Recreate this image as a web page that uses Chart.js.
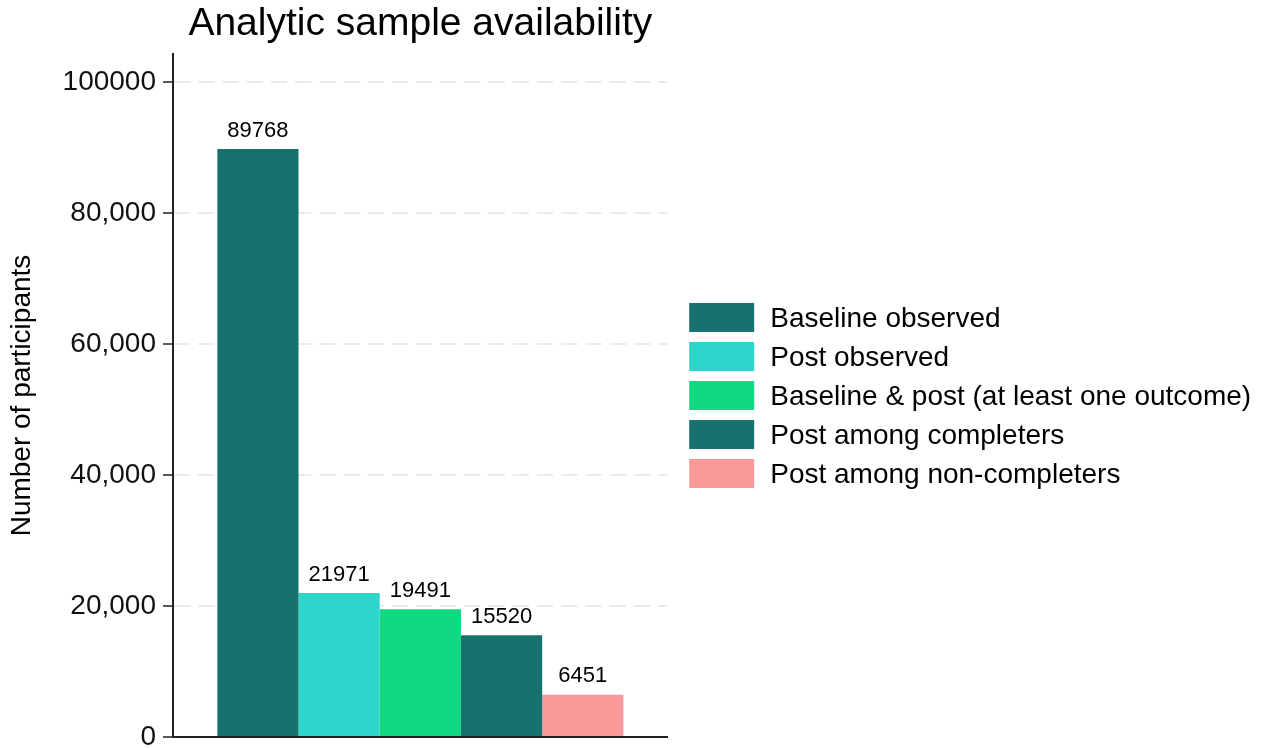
<!DOCTYPE html>
<html>
<head>
<meta charset="utf-8">
<title>Analytic sample availability</title>
<script src="https://cdn.jsdelivr.net/npm/chart.js@4.4.1/dist/chart.umd.min.js"></script>
<style>
  html, body { margin: 0; padding: 0; background: #ffffff; }
  canvas { display: block; }
</style>
</head>
<body>
<canvas id="chart" width="1263" height="748"></canvas>
<script>
// Sample counts per availability group
const categories = [''];
const seriesNames = [
  'Baseline observed',
  'Post observed',
  'Baseline & post (at least one outcome)',
  'Post among completers',
  'Post among non-completers'
];
const seriesValues = [89768, 21971, 19491, 15520, 6451];
const seriesColors = ['#17726F', '#2ED5CB', '#10D982', '#17726F', '#F99999'];

// Y axis ticks and their printed labels
const tickValues = [0, 20000, 40000, 60000, 80000, 100000];
const tickLabels = ['0', '20,000', '40,000', '60,000', '80,000', '100000'];

const FONT = '"Liberation Sans", Arial, Helvetica, sans-serif';
Chart.defaults.font.family = FONT;
Chart.defaults.color = '#000';

// Value printed above each bar
const valueLabels = {
  id: 'valueLabels',
  afterDatasetsDraw(chart) {
    const { ctx } = chart;
    ctx.save();
    ctx.font = '22px ' + FONT;
    ctx.textAlign = 'center';
    ctx.textBaseline = 'alphabetic';
    ctx.fillStyle = '#000';
    chart.data.datasets.forEach((ds, i) => {
      chart.getDatasetMeta(i).data.forEach((bar, j) => {
        ctx.fillText(String(ds.data[j]), bar.x, bar.y - 12.5);
      });
    });
    ctx.restore();
  }
};

// Legend drawn to the right of the plot, vertically centred on it
const sideLegend = {
  id: 'sideLegend',
  afterDraw(chart) {
    const { ctx, chartArea } = chart;
    const boxW = 65, boxH = 29, pitch = 39;
    const items = chart.data.datasets;
    const total = (items.length - 1) * pitch + boxH;
    const x0 = chartArea.right + 21.5;
    const top = (chartArea.top + chartArea.bottom) / 2 - total / 2;
    ctx.save();
    ctx.font = '28px ' + FONT;
    ctx.textBaseline = 'middle';
    ctx.textAlign = 'left';
    items.forEach((ds, i) => {
      const y = top + i * pitch;
      ctx.fillStyle = ds.backgroundColor;
      ctx.fillRect(x0, y, boxW, boxH);
      ctx.fillStyle = '#000';
      ctx.fillText(ds.label, x0 + boxW + 16, y + boxH / 2 + 1.5);
    });
    ctx.restore();
  }
};

const datasets = seriesNames.map((name, i) => ({
  label: name,
  data: [seriesValues[i]],
  backgroundColor: seriesColors[i],
  borderWidth: 0,
  categoryPercentage: 0.8208,
  barPercentage: 1
}));

new Chart(document.getElementById('chart'), {
  type: 'bar',
  data: { labels: categories, datasets },
  options: {
    responsive: false,
    animation: false,
    layout: { padding: { top: 0, right: 595.3, bottom: 0, left: 0 } },
    plugins: {
      legend: { display: false },
      tooltip: { enabled: false },
      title: {
        display: true,
        text: 'Analytic sample availability',
        fullSize: false,
        color: '#000',
        font: { size: 39, weight: 'normal' },
        padding: { top: 1, bottom: 6.2 }
      }
    },
    scales: {
      x: {
        type: 'category',
        grid: { display: false },
        ticks: { display: false },
        border: { display: true, color: '#222', width: 2, z: 1 },
        afterFit(scale) {
          scale.height = 11;
          scale.paddingLeft = 0;
          scale.paddingRight = 0;
        }
      },
      y: {
        min: 0,
        max: 104275,
        afterBuildTicks(scale) {
          scale.ticks = tickValues.map(v => ({ value: v }));
        },
        ticks: {
          color: '#111',
          font: { size: 28 },
          padding: 7,
          callback(value) {
            const k = tickValues.indexOf(value);
            return k >= 0 ? tickLabels[k] : '';
          }
        },
        grid: {
          color: '#EBEBEB',
          lineWidth: 2,
          drawTicks: true,
          tickLength: 10,
          tickColor: '#222',
          tickWidth: 1.5
        },
        border: { display: true, color: '#222', width: 2, dash: [16.3, 7.9], dashOffset: 0, z: 1 },
        title: {
          display: true,
          text: 'Number of participants',
          color: '#000',
          font: { size: 28 },
          padding: { top: 5, bottom: 0 }
        },
        afterFit(scale) {
          scale.width = 173;
          scale.paddingTop = 0;
          scale.paddingBottom = 0;
        }
      }
    }
  },
  plugins: [valueLabels, sideLegend]
});
</script>
</body>
</html>
